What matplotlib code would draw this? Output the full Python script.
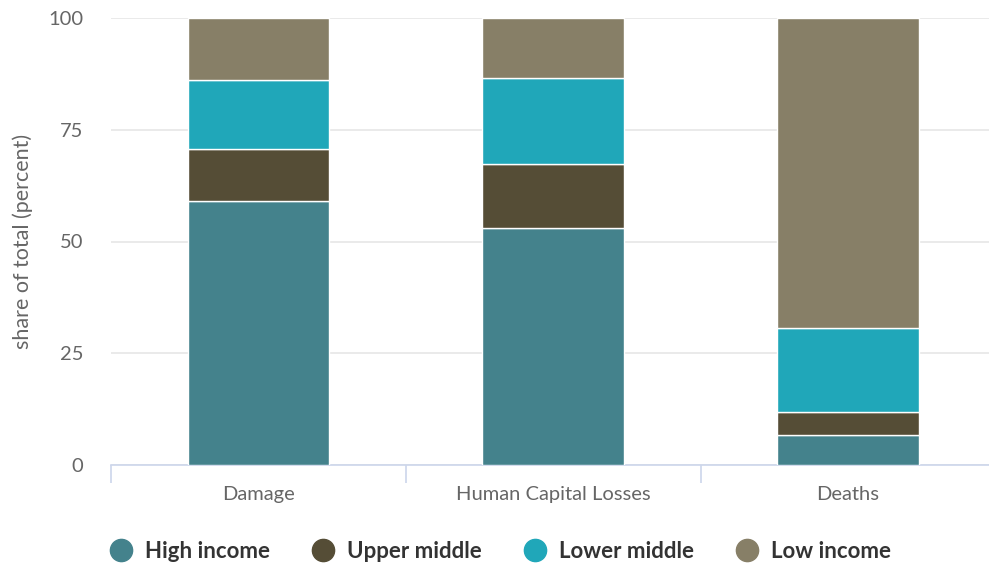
import numpy as np
import matplotlib.pyplot as plt
from matplotlib.lines import Line2D

categories = ["Damage", "Human Capital Losses", "Deaths"]
series = ["High income", "Upper middle", "Lower middle", "Low income"]
high_income = [59.0, 53.0, 6.7]
upper_middle = [11.7, 14.3, 5.2]
lower_middle = [15.4, 19.3, 18.7]
low_income = [13.9, 13.4, 69.4]
colors = ["#44828c", "#554d36", "#20a7b9", "#877f67"]
yticks = [0, 25, 50, 75, 100]

plt.rcParams['font.family'] = ['Lato', 'DejaVu Sans']

fig = plt.figure(figsize=(9.89, 5.63), dpi=100)
ax = fig.add_axes([111 / 989, 1 - 465 / 563, 884.5 / 989, 447 / 563])

x = np.arange(len(categories))
bottom = np.zeros(len(categories))
for vals, c in zip([high_income, upper_middle, lower_middle, low_income], colors):
    ax.bar(x, vals, width=0.48, bottom=bottom, color=c, edgecolor="white",
           linewidth=1, zorder=3)
    bottom += np.array(vals)

ax.set_xlim(-0.5, 2.5)
ax.set_ylim(0, 100)
ax.set_yticks(yticks)
ax.set_yticklabels([str(t) for t in yticks], fontsize=14.5, color="#666666")
ax.yaxis.grid(True, color="#e6e6e6", linewidth=1.2, zorder=0)
ax.tick_params(axis="y", length=0, pad=20)

ax.set_xticks(x)
ax.set_xticklabels(categories, fontsize=14.5, color="#666666")
ax.set_xticks([-0.5, 0.5, 1.5, 2.5], minor=True)
ax.tick_params(axis="x", which="major", length=0, pad=15)
ax.tick_params(axis="x", which="minor", length=13, color="#ccd6eb", width=1.2)

for s in ["top", "right", "left"]:
    ax.spines[s].set_visible(False)
ax.spines["bottom"].set_color("#ccd6eb")
ax.spines["bottom"].set_linewidth(1.2)

ax.set_ylabel("share of total (percent)", fontsize=15.5, color="#666666", labelpad=11)

handles = [Line2D([], [], marker="o", linestyle="", markersize=16,
                  markerfacecolor=c, markeredgecolor=c) for c in colors]
leg = fig.legend(handles, series, loc="center", bbox_to_anchor=(495 / 989, 1 - 551 / 563),
                 ncol=4, frameon=False, handletextpad=0.08, columnspacing=1.4,
                 prop={"weight": "bold", "size": 16})
for t in leg.get_texts():
    t.set_color("#333333")

fig.savefig("out.png", dpi=100)
